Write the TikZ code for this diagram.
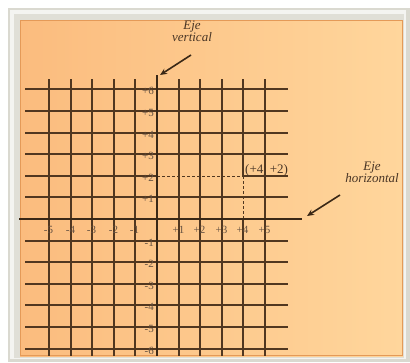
\documentclass[tikz,border=0pt]{standalone}
\usepackage{fontspec}
\setmainfont{Liberation Serif}
\usetikzlibrary{arrows.meta,calc}
\definecolor{gridc}{HTML}{513720}
\definecolor{axisc}{HTML}{3A2816}
\definecolor{labc}{HTML}{4A3626}
\definecolor{tickc}{HTML}{665242}
\definecolor{frameg}{HTML}{DAD9D0}
\definecolor{orL}{HTML}{FBBC7E}
\definecolor{orR}{HTML}{FFD69C}
\definecolor{orB}{HTML}{E49A58}
\tikzset{
  gline/.style={draw=gridc, line width=1.4pt},
  axisline/.style={draw=axisc, line width=2pt},
  ylab/.style={anchor=east, text=tickc, font=\fontsize{11}{11}\selectfont, inner sep=0.5pt},
  xlab/.style={anchor=center, text=tickc, font=\fontsize{11}{11}\selectfont, inner sep=0.5pt},
  callout/.style={font=\itshape\fontsize{13}{12}\selectfont, text=labc, align=center, inner sep=0pt},
  pointer/.style={draw=axisc, line width=1.6pt, -{Stealth[length=7pt,width=6pt]}},
  guide/.style={draw=gridc, densely dashed, line width=0.8pt}
}
\newcommand{\gx}[1]{round(157+21.6*#1)}
\newcommand{\gy}[1]{round(219-21.6*#1)}
\begin{document}
\begin{tikzpicture}[x=1pt,y=-1pt]
\useasboundingbox (0,0) rectangle (410,362);
\fill[white] (0,0) rectangle (410,362);
% frame
\fill[frameg] (8,8) rectangle (410,362);
\fill[white!70!frameg] (10,10) rectangle (406,359);
\fill[frameg!85!white] (14,14) rectangle (404,358);
% orange panel
\shade[left color=orL, right color=orR] (20,20) rectangle (403,356);
\draw[orB, line width=0.8pt] (20.5,20.5) rectangle (402.5,355.5);
% grid
\foreach \i in {-5,...,3,5} {
  \ifnum\i=0\relax\else
    \draw[gline] ({\gx{\i}},79) -- ({\gx{\i}},356);
  \fi
}
\foreach \j in {-6,...,1,3,4,5,6} {
  \ifnum\j=0\relax\else
    \draw[gline] (25,{\gy{\j}}) -- (288,{\gy{\j}});
  \fi
}
% point
\coordinate (P) at ({\gx{4}},{\gy{2}});
\coordinate (Py) at (157,{\gy{2}});
\coordinate (Px) at ({\gx{4}},219);
% broken grid lines through the point
\draw[gline] (25,{\gy{2}}) -- (Py);
\draw[gline] (P) -- (288,{\gy{2}});
\draw[gline] ({\gx{4}},79) -- (P);
\draw[gline] (Px) -- ({\gx{4}},356);
\draw[guide] (Py) -- (P);
\draw[guide] (P) -- (Px);
% axes
\coordinate (xl) at (19,219);
\coordinate (xr) at (302,219);
\coordinate (yt) at (157,75);
\coordinate (yb) at (157,356);
\draw[axisline] (xl) -- (xr);
\draw[axisline] (yt) -- (yb);
% y labels
\foreach \j/\t in {6/+6,5/+5,4/+4,3/+3,2/+2,1/+1,-1/-1,-2/-2,-3/-3,-4/-4,-5/-5,-6/-6}
  \node[ylab] (y\j) at (154.5,{\gy{\j}+1.5}) {\t};
% x labels
\foreach \i/\t in {-5/-5,-4/-4,-3/-3,-2/-2,-1/-1,1/+1,2/+2,3/+3,4/+4,5/+5}
  \node[xlab] (x\i) at ({\gx{\i}-0.5},230) {\t};
\node[anchor=south west, text=labc, font=\fontsize{13}{13}\selectfont, inner sep=1pt] (Plab) at ($(P)+(1,1)$) {(+4, +2)};
% callouts
\node[callout] (ev) at (192,31) {Eje\\vertical};
\coordinate (evs) at (191,55);
\coordinate (eve) at (160,75);
\draw[pointer] (evs) -- (eve);
\node[callout] (eh) at (372,172) {Eje\\horizontal};
\coordinate (ehs) at (340,195);
\coordinate (ehe) at (307,216);
\draw[pointer] (ehs) -- (ehe);
\end{tikzpicture}
\end{document}
